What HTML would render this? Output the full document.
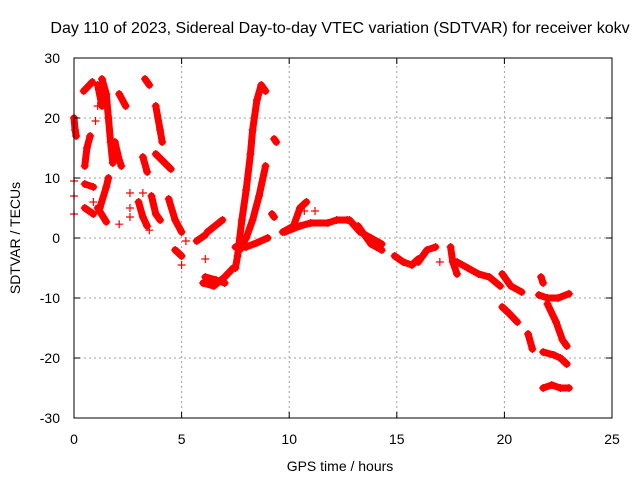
<!DOCTYPE html>
<html><head><meta charset="utf-8"><style>
body{margin:0;background:#fff}
svg{display:block;font-family:"Liberation Sans",sans-serif}
</style></head><body>
<svg id="chart" width="640" height="480" viewBox="0 0 640 480">
<text x="340" y="33" font-size="16" text-anchor="middle">Day 110 of 2023, Sidereal Day-to-day VTEC variation (SDTVAR) for receiver kokv</text>
<g id="grid"></g><g id="data"></g><g id="axes"></g>
<text x="340" y="471" font-size="14" text-anchor="middle">GPS time / hours</text>
<text transform="translate(20,238) rotate(-90)" font-size="14" text-anchor="middle">SDTVAR / TECUs</text>
</svg>
<script>
const xTicks=[0,5,10,15,20,25];
const yTicks=[-30,-20,-10,0,10,20,30];
const segments=[
[[0,20],[0.05,18],[0.1,17]],
[[0.45,24.5],[0.85,26]],
[[0.5,12],[0.6,15],[0.75,17]],
[[1.3,26.5],[1.5,24],[1.6,20],[1.7,16],[1.8,12.5]],
[[1.1,25.5],[1.3,22]],
[[2.1,24],[2.4,22]],
[[1.9,16],[2.1,13],[2.2,12]],
[[3.3,26.5],[3.5,25.5]],
[[3.8,22],[4.0,18],[4.1,16]],
[[3.2,13.5],[3.4,11]],
[[3.8,14],[4.5,11.5]],
[[0.5,9],[0.9,8.5]],
[[0.5,5],[0.9,4]],
[[1.2,5],[1.5,8.5],[1.6,10]],
[[1.1,5],[1.5,2.7]],
[[3.0,6],[3.2,3.5],[3.4,2]],
[[3.6,7],[3.8,4],[4.0,3]],
[[4.4,6.5],[4.7,3],[5.0,1]],
[[4.7,-2],[5.0,-3]],
[[5.7,-0.5],[6.1,0.5]],
[[6.2,1],[6.9,3]],
[[6.0,-7.5],[6.5,-8],[7.0,-6.5],[7.4,-5]],
[[6.1,-6.5],[6.6,-7],[7.0,-7.5]],
[[7.5,-5],[7.6,-3],[7.8,3],[8.0,8],[8.2,14],[8.3,18],[8.5,23],[8.7,25.5],[8.9,24.5]],
[[7.7,-2],[8.0,0],[8.3,3],[8.6,7],[8.9,12]],
[[7.5,-1.5],[8.0,-1.5],[8.5,-0.8],[9.0,0]],
[[9.3,16.5],[9.4,16]],
[[9.2,4],[9.3,3.5]],
[[9.7,1],[10.2,2],[10.5,5],[10.8,6]],
[[9.8,1],[10.5,2],[11,2.5],[11.8,2.5],[12.2,3],[12.7,3]],
[[12.8,3],[13.3,1],[13.8,0],[14.3,-1]],
[[13.2,2],[13.8,-1],[14.3,-2]],
[[14.9,-3],[15.3,-4],[15.7,-4.5],[16.0,-3.5]],
[[16.0,-4],[16.4,-2],[16.8,-1.5]],
[[17.5,-1.5],[17.6,-4],[17.8,-6]],
[[17.8,-4],[18.3,-5],[18.8,-6],[19.3,-6.5],[19.8,-8]],
[[19.9,-6],[20.3,-8],[20.8,-9]],
[[19.9,-11.5],[20.2,-12.5],[20.6,-14]],
[[21.1,-16],[21.3,-18.5]],
[[21.7,-6.5],[21.8,-7.5]],
[[21.6,-9.5],[22.0,-10],[22.5,-10],[23,-9.3]],
[[22.0,-11],[22.4,-14],[22.7,-17],[22.9,-18]],
[[21.8,-19],[22.3,-19.5],[22.6,-20],[22.9,-21]],
[[21.8,-25],[22.2,-24.5],[22.6,-25],[23,-25]]
];
const singles=[[0,9.5],[0,4],[0,7],[1.0,19.5],[1.1,22],[0.9,6],[2.1,2.3],[2.6,7.5],[2.6,5],[2.6,3.5],[3.5,1.3],[3.2,7.5],[5.0,-4.5],[5.2,-0.5],[6.1,-3.5],[10.7,4.5],[11.2,4.5],[17.0,-4]];
const NS="http://www.w3.org/2000/svg";
const X0=74,X1=612,Y0=418,Y1=58;
function sx(v){return X0+(v-0)/(25-0)*(X1-X0);}
function sy(v){return Y0-(v+30)/60*(Y0-Y1);}
function mk(tag,attrs,parent){const e=document.createElementNS(NS,tag);for(const k in attrs)e.setAttribute(k,attrs[k]);parent.appendChild(e);return e;}
const grid=document.getElementById('grid'),axes=document.getElementById('axes'),data=document.getElementById('data');
xTicks.forEach(t=>{
 if(t>0&&t<25){const g=mk('line',{x1:sx(t),x2:sx(t),y1:Y0,y2:Y1,stroke:'#a0a0a0','stroke-dasharray':'2,3'},grid);
 
 }
 const l=mk('text',{x:sx(t),y:Y0+26,'font-size':14,'text-anchor':'middle'},axes);l.textContent=t;
 
 
 mk('line',{x1:sx(t),x2:sx(t),y1:Y0,y2:Y0-6,stroke:'#000'},axes);
 mk('line',{x1:sx(t),x2:sx(t),y1:Y1,y2:Y1+6,stroke:'#000'},axes);
});
yTicks.forEach(t=>{
 if(t>-30&&t<30){const g=mk('line',{x1:X0,x2:X1,y1:sy(t),y2:sy(t),stroke:'#a0a0a0','stroke-dasharray':'2,3'},grid);
 
 }
 const l=mk('text',{x:X0-14,y:sy(t)+5,'font-size':14,'text-anchor':'end'},axes);l.textContent=t;
 
 
 mk('line',{x1:X0,x2:X0+6,y1:sy(t),y2:sy(t),stroke:'#000'},axes);
 mk('line',{x1:X1,x2:X1-6,y1:sy(t),y2:sy(t),stroke:'#000'},axes);
});
const border=mk('rect',{x:X0,y:Y1,width:X1-X0,height:Y0-Y1,fill:'none',stroke:'#000'},axes);


function plus(x,y){mk('path',{d:`M${x-4},${y}h8M${x},${y-4}v8`,stroke:'#f00','stroke-width':1.2},data);}
segments.forEach(seg=>{
 const p=mk('polyline',{points:seg.map(d=>sx(d[0])+','+sy(d[1])).join(' '),fill:'none',stroke:'#f00','stroke-width':7,'stroke-linecap':'round','stroke-linejoin':'round'},data);
 
 
 seg.forEach(d=>plus(sx(d[0]),sy(d[1])));
});
singles.forEach(d=>plus(sx(d[0]),sy(d[1])));
</script>
</body></html>
